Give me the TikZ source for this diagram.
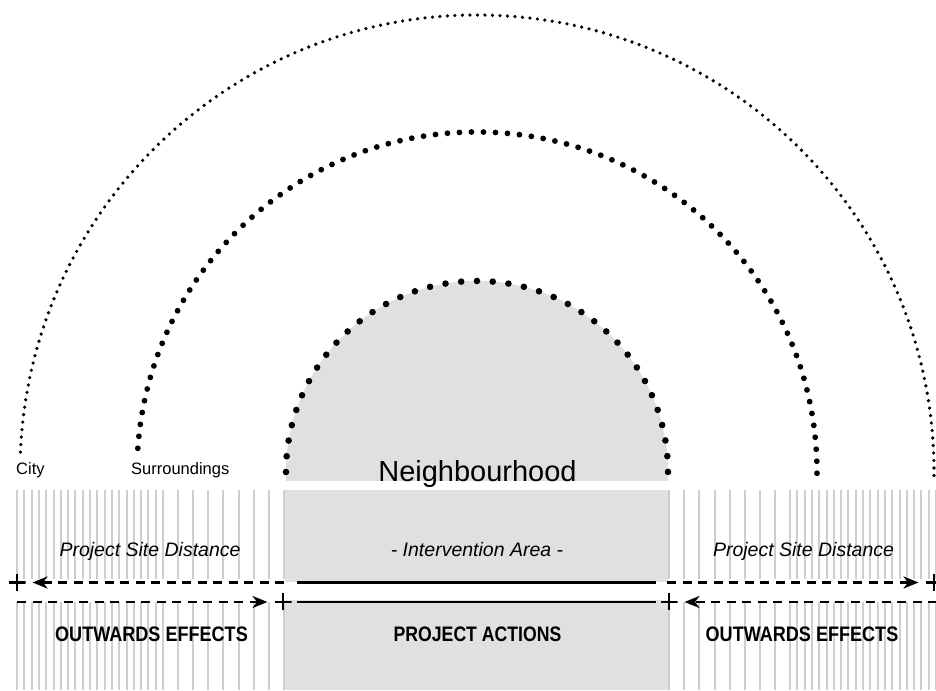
\documentclass[tikz,border=0pt]{standalone}
\usepackage{fontspec}
\setmainfont{Liberation Sans}
\usetikzlibrary{arrows.meta}
\definecolor{areagray}{RGB}{224,224,224}
\definecolor{hatchgray}{RGB}{206,206,206}
\begin{document}
\begin{tikzpicture}[x=1pt,y=1pt,
  hatch/.style={draw=hatchgray, line width=2pt},
  dotsouter/.style={line width=3.6pt, line cap=round, dash pattern=on 0pt off 7.51pt},
  dotsmiddle/.style={line width=5.8pt, line cap=round, dash pattern=on 0pt off 12.02pt},
  dotsinner/.style={line width=6.6pt, line cap=round, dash pattern=on 0pt off 15.79pt},
  dasharrow/.style={line width=2.5pt, dash pattern=on 9pt off 6.5pt, -{Stealth[length=15pt,width=12pt,inset=4.5pt]}},
  solidline/.style={line width=2.6pt},
  plusmark/.style={minimum size=17pt, inner sep=0pt, outer sep=7pt,
    path picture={\draw[line width=2.5pt] (path picture bounding box.west) -- (path picture bounding box.east)
      (path picture bounding box.north) -- (path picture bounding box.south);}},
  lbl/.style={inner sep=0pt, anchor=base},
  small/.style={lbl, font=\fontsize{16.5}{18}\selectfont},
  dist/.style={lbl, font=\fontsize{19.5}{22}\selectfont\itshape},
  heavy/.style={lbl, font=\fontsize{21}{24}\selectfont\bfseries}
]
\useasboundingbox (0,0) rectangle (936,690);
\fill[white] (0,0) rectangle (936,690);

% grey intervention area
\fill[areagray] (286,209) -- (286,218) arc[start angle=180,end angle=0,radius=191] -- (668,209) -- cycle;
\fill[areagray] (285,200) rectangle (668,108);
\fill[areagray] (285,90) rectangle (668,0);

% hatching
\foreach \i in {0,...,19}{
  \pgfmathsetmacro{\xa}{17+7.3*\i}
  \pgfmathsetmacro{\xb}{953-\xa}
  \draw[hatch] (\xa,200) -- (\xa,111) (\xa,88) -- (\xa,0);
  \draw[hatch] (\xb,200) -- (\xb,111) (\xb,88) -- (\xb,0);
}
\foreach \k in {0,...,8}{
  \pgfmathsetmacro{\xa}{163+15.1*\k}
  \pgfmathsetmacro{\xb}{953-\xa}
  \draw[hatch] (\xa,200) -- (\xa,111) (\xa,88) -- (\xa,0);
  \draw[hatch] (\xb,200) -- (\xb,111) (\xb,88) -- (\xb,0);
}

% dotted arcs
\draw[dotsouter] (477,218) ++(177.5:457) arc[start angle=177.5,end angle=-0.5,radius=457];
\draw[dotsmiddle] (477,218) ++(176:340) arc[start angle=176,end angle=-0.3,radius=340];
\draw[dotsinner] (477,218) ++(180:191) arc[start angle=180,end angle=0,radius=191];

% labels
\node[small, anchor=base west] (city) at (16,215) {City};
\node[small, anchor=base west] (surr) at (131,215) {Surroundings};
\node[lbl, font=\fontsize{29}{32}\selectfont] (neigh) at (477.5,208) {Neighbourhood};
\node[dist] (psdL) at (150,133) {Project Site Distance};
\node[dist] (psdR) at (803.5,133) {Project Site Distance};
\node[dist] (inter) at (477,133) {- Intervention Area -};
\node[heavy] (outL) at (151.5,48) {\scalebox{0.86}[1]{OUTWARDS EFFECTS}};
\node[heavy] (outR) at (802,48) {\scalebox{0.86}[1]{OUTWARDS EFFECTS}};
\node[heavy] (proj) at (477.5,48) {\scalebox{0.84}[1]{PROJECT ACTIONS}};

% plus marks
\node[plusmark] (pUL) at (17,107.5) {};
\node[plusmark] (pUR) at (934,107.5) {};
\node[plusmark] (pLL) at (283,88) {};
\node[plusmark] (pLR) at (669,88) {};

% free ends
\coordinate (sUL) at (284,107.5);
\coordinate (sUR) at (667,107.5);
\coordinate (sLL) at (17,88);
\coordinate (sLR) at (937,88);
\coordinate (iUa) at (297,107.5);
\coordinate (iUb) at (656,107.5);
\coordinate (iLa) at (297,88);
\coordinate (iLb) at (656,88);

% connectors
\draw[dasharrow] (sUL) -- (pUL);
\draw[dasharrow] (sUR) -- (pUR);
\draw[dasharrow] (sLL) -- (pLL);
\draw[dasharrow] (sLR) -- (pLR);
\draw[solidline] (iUa) -- (iUb);
\draw[solidline] (iLa) -- (iLb);
\end{tikzpicture}
\end{document}
